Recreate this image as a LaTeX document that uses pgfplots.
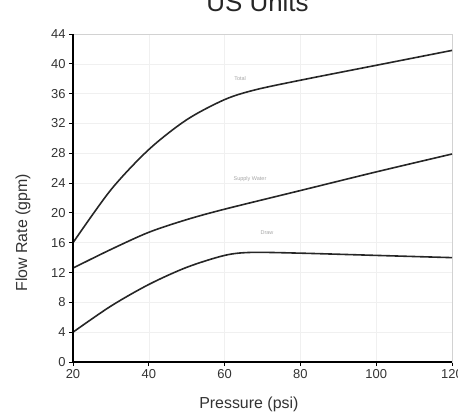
\documentclass[border=0pt]{standalone}
\usepackage{fontspec}
\setmainfont{Liberation Sans}
\usepackage{pgfplots}
\pgfplotsset{compat=1.18}
\begin{document}
\begin{tikzpicture}
\begin{axis}[
  name=ax,
  at={(0,0)}, anchor=south west,
  scale only axis,
  width=379bp, height=328bp,
  xmin=20, xmax=120, ymin=0, ymax=44,
  xtick={20,40,...,120}, ytick={0,4,...,44},
  /pgf/number format/assume math mode=true,
  ticklabel style={font=\fontsize{13}{15}\selectfont, text=black!80},
  tick align=outside, tick pos=left,
  major tick length=4bp,
  tick style={black, line width=1pt},
  axis line style={gray!35, line width=0.6pt},
  ymajorgrids, xmajorgrids,
  major grid style={gray!12, line width=0.6pt},
  xlabel={Pressure (psi)}, ylabel={Flow Rate (gpm)},
  label style={font=\fontsize{16}{18}\selectfont, text=black!80},
  xlabel style={at={(axis description cs:0.464,-0.13)}, anchor=center},
  ylabel style={at={(axis description cs:-0.132,0.394)}, anchor=center},
  clip=false,
]
\addplot[black!85, line width=1.6bp, smooth] coordinates {
 (20,16.0) (30,23.1) (40,28.5) (50,32.5) (60,35.2) (68,36.5) (80,37.8) (100,39.8) (120,41.8)};
\addplot[black!85, line width=1.6bp, smooth] coordinates {
 (20,12.6) (30,15.1) (40,17.4) (50,19.1) (60,20.5) (80,23.0) (100,25.5) (120,27.9)};
\addplot[black!85, line width=1.6bp, smooth] coordinates {
 (20,4.0) (30,7.5) (40,10.4) (50,12.7) (60,14.3) (67,14.7) (80,14.6) (100,14.3) (120,14.0)};
\node[font=\fontsize{5.5}{6}\selectfont, text=gray!70] at (axis cs:64.1,38.0) {Total};
\node[font=\fontsize{5.5}{6}\selectfont, text=gray!70] at (axis cs:66.7,24.6) {Supply Water};
\node[font=\fontsize{5.5}{6}\selectfont, text=gray!70] at (axis cs:71.2,17.3) {Draw};
\draw[black, line width=1.5bp] (rel axis cs:0,1) -- (rel axis cs:0,0) -- (rel axis cs:1,0);
\end{axis}
\path (ax.south west) ++(184.5bp,350bp) node[anchor=base, font=\fontsize{26}{30}\selectfont, text=black!85, inner sep=0pt] {US Units};
\pgfresetboundingbox
\path[use as bounding box] (ax.south west) ++(-73bp,-57bp) rectangle ++(458bp,419bp);
\end{tikzpicture}
\end{document}
